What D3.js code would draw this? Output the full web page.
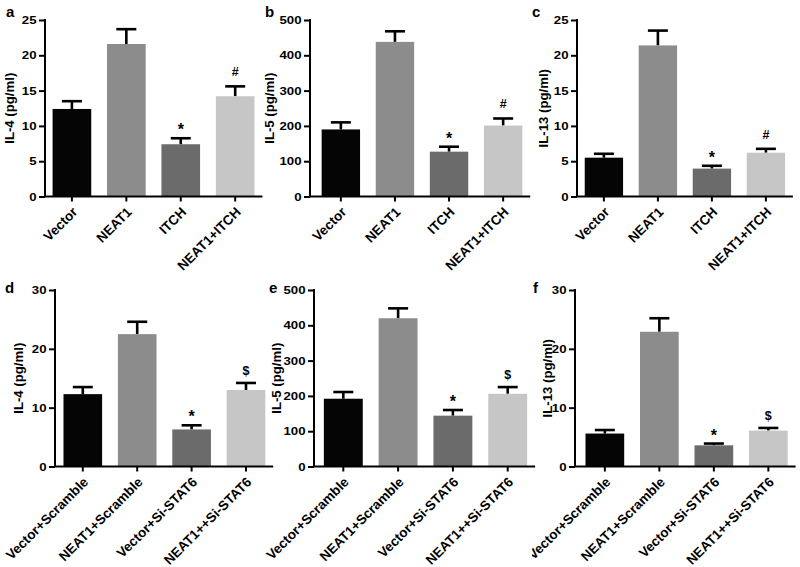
<!DOCTYPE html>
<html><head><meta charset="utf-8">
<script src="https://cdn.jsdelivr.net/npm/d3@7"></script>
<style>
body{margin:0;background:#fff}
svg{display:block;font-family:"Liberation Sans",Arial,sans-serif;font-weight:bold}
</style>
</head><body>
<svg id="chart" width="800" height="567"></svg>
<script>
// ---- data ----
const catsTop = ["Vector", "NEAT1", "ITCH", "NEAT1+ITCH"];
const catsBottom = ["Vector+Scramble", "NEAT1+Scramble", "Vector+Si-STAT6", "NEAT1++Si-STAT6"];
const marksTop = ["", "", "*", "#"];
const marksBottom = ["", "", "*", "$"];

const il4Top = [12.4, 21.6, 7.4, 14.2];
const il4TopErr = [1.1, 2.1, 0.85, 1.4];
const il5Top = [190, 438, 127, 201];
const il5TopErr = [20, 30, 14, 20];
const il13Top = [5.5, 21.4, 3.95, 6.2];
const il13TopErr = [0.55, 2.1, 0.4, 0.55];

const il4Bottom = [12.3, 22.5, 6.3, 13.0];
const il4BottomErr = [1.2, 2.1, 0.7, 1.2];
const il5Bottom = [192, 420, 144, 206];
const il5BottomErr = [19, 28, 16, 19];
const il13Bottom = [5.6, 22.9, 3.6, 6.1];
const il13BottomErr = [0.6, 2.3, 0.3, 0.45];

const yTicks25 = [0, 5, 10, 15, 20, 25];
const yTicks500 = [0, 100, 200, 300, 400, 500];
const yTicks30 = [0, 10, 20, 30];

const yTitles = ["IL-4 (pg/ml)", "IL-5 (pg/ml)", "IL-13 (pg/ml)"];
const panelLetters = ["a", "b", "c", "d", "e", "f"];

// ---- layout / style ----
const barColors = ["#050505", "#8c8c8c", "#6b6b6b", "#c6c6c6"];
const FONT = "Liberation Sans, Arial, sans-serif";
const TICK_STRETCH = 1.15;
const markOffset = {"*": 3, "#": 10, "$": 8};
const svg = d3.select("#chart");

const panels = [
  {letter: panelLetters[0], cats: catsTop, vals: il4Top, errs: il4TopErr, marks: marksTop, ticks: yTicks25, title: yTitles[0],
   axisX: 45, band: [44.7, 262.4], top: 20, bottom: 196.5, lx: 6, ly: 17, tx: 9},
  {letter: panelLetters[1], cats: catsTop, vals: il5Top, errs: il5TopErr, marks: marksTop, ticks: yTicks500, title: yTitles[1],
   axisX: 310, band: [313.8, 530.2], top: 20, bottom: 196.5, lx: 265, ly: 17, tx: 269},
  {letter: panelLetters[2], cats: catsTop, vals: il13Top, errs: il13TopErr, marks: marksTop, ticks: yTicks25, title: yTitles[2],
   axisX: 577, band: [576.9, 792.9], top: 20, bottom: 196.5, lx: 532, ly: 17, tx: 543},
  {letter: panelLetters[3], cats: catsBottom, vals: il4Bottom, errs: il4BottomErr, marks: marksBottom, ticks: yTicks30, title: yTitles[0],
   axisX: 55, band: [55.6, 273.2], top: 290, bottom: 466.5, lx: 5, ly: 293, tx: 18},
  {letter: panelLetters[4], cats: catsBottom, vals: il5Bottom, errs: il5BottomErr, marks: marksBottom, ticks: yTicks500, title: yTitles[1],
   axisX: 314, band: [315.9, 535.1], top: 290, bottom: 466.5, lx: 269, ly: 293, tx: 276},
  {letter: panelLetters[5], cats: catsBottom, vals: il13Bottom, errs: il13BottomErr, marks: marksBottom, ticks: yTicks30, title: yTitles[2],
   axisX: 575, band: [577.6, 795.6], top: 290, bottom: 466.5, lx: 533, ly: 293, tx: 547, clip: 532}
];

panels.forEach((p, pi) => {
  let g = svg.append("g");
  if (p.clip !== undefined) {
    svg.append("clipPath").attr("id", "clip" + pi)
      .append("rect").attr("x", p.clip).attr("y", 0).attr("width", 800 - p.clip).attr("height", 567);
    g.attr("clip-path", `url(#clip${pi})`);
  }
  const x = d3.scaleBand().domain(p.cats).range(p.band).paddingInner(0.29).paddingOuter(0.145);
  const y = d3.scaleLinear().domain([0, d3.max(p.ticks)]).range([p.bottom, p.top]);

  const data = p.cats.map((c, i) => ({c, v: p.vals[i], e: p.errs[i], m: p.marks[i], col: barColors[i]}));
  // error bars (upper half only)
  const eb = g.append("g");
  data.forEach(d => {
    const cx = x(d.c) + x.bandwidth() / 2;
    eb.append("line").attr("x1", cx).attr("x2", cx).attr("y1", y(d.v)).attr("y2", y(d.v + d.e))
      .attr("stroke", "#000").attr("stroke-width", 2.6);
    eb.append("line").attr("x1", cx - 10).attr("x2", cx + 10).attr("y1", y(d.v + d.e)).attr("y2", y(d.v + d.e))
      .attr("stroke", "#000").attr("stroke-width", 2.6);
  });
  g.append("g").selectAll("rect").data(data).join("rect")
    .attr("x", d => x(d.c)).attr("width", x.bandwidth())
    .attr("y", d => y(d.v)).attr("height", d => y(0) - y(d.v))
    .attr("fill", d => d.col);

  // significance marks
  g.append("g").selectAll("text").data(data.filter(d => d.m)).join("text")
    .attr("x", d => x(d.c) + x.bandwidth() / 2)
    .attr("y", d => y(d.v + d.e) - markOffset[d.m])
    .attr("text-anchor", "middle").attr("font-size", d => d.m === "*" ? 16 : 12.5).text(d => d.m);

  // y axis
  const ya = g.append("g").attr("transform", `translate(${p.axisX},0)`)
    .call(d3.axisLeft(y).tickValues(p.ticks).tickSize(6).tickPadding(2).tickFormat(d3.format("d")));
  ya.select(".domain").attr("stroke-width", 2).attr("d", `M0,${p.top - 1}V${p.bottom}`);
  ya.selectAll(".tick line").attr("stroke-width", 2);
  ya.selectAll(".tick text").attr("font-size", 11.5).attr("font-weight", "bold")
    .attr("font-family", FONT).attr("fill", "#000")
    .attr("x", -8.5 / TICK_STRETCH).attr("transform", `scale(${TICK_STRETCH},1)`);

  // x axis
  const xa = g.append("g").attr("transform", `translate(0,${p.bottom})`)
    .call(d3.axisBottom(x).tickSize(5).tickFormat(""));
  xa.select(".domain").attr("stroke-width", 2).attr("d", `M${p.axisX},0H${p.band[1]}`);
  xa.selectAll(".tick line").attr("stroke-width", 2);
  xa.selectAll(".tick text").remove();
  xa.selectAll(".tick").append("text")
    .attr("text-anchor", "end")
    .attr("transform", "translate(3,13) rotate(-45)")
    .attr("dy", "0.35em")
    .attr("font-size", 13.5).attr("font-weight", "bold").attr("fill", "#000")
    .attr("font-family", FONT)
    .text(d => d);

  // y title
  g.append("text").attr("transform", `translate(${p.tx},${(p.top + p.bottom) / 2}) rotate(-90)`)
    .attr("text-anchor", "middle").attr("dy", "0.35em").attr("font-size", 13.2).text(p.title);

  // panel letter
  svg.append("text").attr("x", p.lx).attr("y", p.ly).attr("font-size", 15).text(p.letter);
});
</script>
</body></html>
